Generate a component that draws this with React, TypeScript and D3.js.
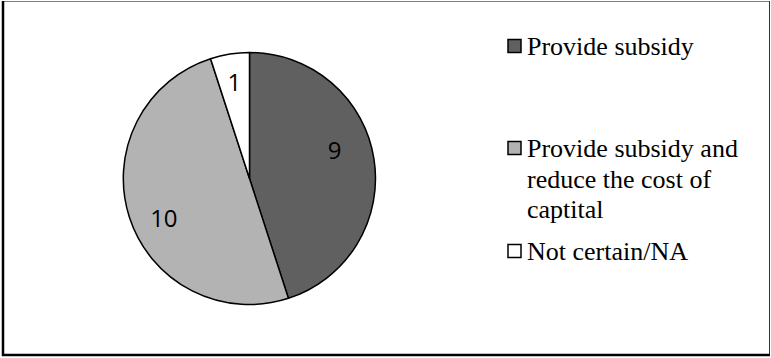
import React from "react";
import * as d3 from "d3";

// Survey answers
const categories = ["Provide subsidy", "Provide subsidy and reduce the cost of captital", "Not certain/NA"];
const values = [9, 10, 1];
// Legend text broken into lines as displayed
const legendLines = [["Provide subsidy"], ["Provide subsidy and", "reduce the cost of", "captital"], ["Not certain/NA"]];
const colors = ["#606060", "#b3b3b3", "#ffffff"];

const W = 771;
const H = 358;
const cx = 249.5;
const cy = 178.5;
const R = 126;
// Label placement tweaks per slice: angle shift (deg), radius shift (px)
const labelShift = [
  { da: -9, dr: -5 },
  { da: -7, dr: 0 },
  { da: 0, dr: 3 },
];
const legendX = 508;
const legendBaselines = [55, 157, 260];
const lineGap = 30.7;

const serif = "'Times New Roman', 'Liberation Serif', 'DejaVu Serif', serif";
const sans = "'Open Sans', 'Liberation Sans', sans-serif";

export default function App() {
  const pie = d3.pie<number>().sort(null).value((d) => d);
  const arcs = pie(values);
  const arc = d3.arc<d3.PieArcDatum<number>>().innerRadius(0).outerRadius(R);
  const labelR = R * 0.75;

  return (
    <svg
      width={W}
      height={H}
      style={{ position: "fixed", left: 0, top: 0, background: "#fff" }}
    >
      <rect x={0} y={0} width={W} height={H} fill="#fff" />
      {/* frame */}
      <line x1={3} y1={1.5} x2={769.5} y2={1.5} stroke="#808080" strokeWidth={1} />
      <line x1={769.5} y1={1} x2={769.5} y2={356} stroke="#333" strokeWidth={1} />
      <line x1={3} y1={1} x2={3} y2={356} stroke="#000" strokeWidth={2.5} />
      <line x1={2} y1={355} x2={770} y2={355} stroke="#000" strokeWidth={2.5} />

      <g transform={`translate(${cx},${cy})`}>
        {arcs.map((a, i) => (
          <path key={i} d={arc(a) || ""} fill={colors[i]} stroke="#000" strokeWidth={1.5} strokeLinejoin="round" />
        ))}
        {arcs.map((a, i) => {
          const mid = (a.startAngle + a.endAngle) / 2 + (labelShift[i].da * Math.PI) / 180;
          const r = labelR + labelShift[i].dr;
          const x = Math.sin(mid) * r;
          const y = -Math.cos(mid) * r;
          return (
            <text
              key={"l" + i}
              x={x}
              y={y + 8.5}
              textAnchor="middle"
              fontFamily={sans}
              fontSize={24}
              fill="#000"
            >
              {a.data}
            </text>
          );
        })}
      </g>

      {categories.map((c, i) => (
        <g key={c}>
          <rect
            x={legendX}
            y={legendBaselines[i] - 15.5}
            width={13}
            height={13}
            fill={colors[i]}
            stroke="#000"
            strokeWidth={1.5}
          />
          <text fontFamily={serif} fontSize={26} fill="#000">
            {legendLines[i].map((ln, j) => (
              <tspan key={j} x={legendX + 19} y={legendBaselines[i] + j * lineGap}>
                {ln}
              </tspan>
            ))}
          </text>
        </g>
      ))}
    </svg>
  );
}
